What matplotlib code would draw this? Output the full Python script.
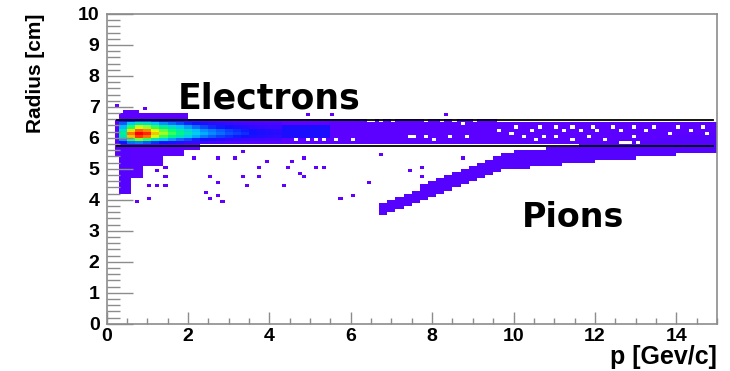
import numpy as np
import matplotlib

matplotlib.use("Agg")
import matplotlib.pyplot as plt
from matplotlib.colors import LinearSegmentedColormap, Normalize
from matplotlib.ticker import MultipleLocator

plt.rcParams["font.family"] = ["Liberation Sans", "DejaVu Sans"]
plt.rcParams["font.weight"] = "bold"

# ---------- binning (p in GeV/c, radius in cm) ----------
DP, DR = 0.1, 0.1
P_MAX, R_MAX = 15.0, 10.0

# ---------- filled regions: p0, p1, r0, r1, entries ----------
box_p0 = [0.2, 0.3, 4.3, 9.6, 0.3, 0.6, 0.9, 1.4, 1.9, 0.3, 0.4, 4.3]
box_p1 = [0.3, 4.3, 9.6, 15.0, 0.6, 0.9, 1.4, 1.9, 2.3, 2.0, 0.8, 5.5]
box_r0 = [5.4, 5.8, 5.8, 5.8, 4.2, 4.7, 5.1, 5.4, 5.6, 6.6, 6.8, 6.0]
box_r1 = [6.6, 6.6, 6.6, 6.5, 5.8, 5.8, 5.8, 5.8, 5.8, 6.8, 6.9, 6.4]
box_n = [2, 2, 2, 2, 3, 2, 2, 2, 1, 2, 2, 14]

# ---------- pion band, step edges ----------
pion_p = [6.7, 6.9, 7.1, 7.3, 7.5, 7.7, 7.9, 8.1, 8.3, 8.5, 8.7, 8.9,
          9.1, 9.3, 9.5, 9.7, 10.0, 10.4, 10.8, 11.2, 11.6, 12.0, 12.5,
          13.0, 13.5, 14.0, 14.5, 15.0]
pion_lo = [3.5, 3.6, 3.7, 3.8, 3.9, 4.0, 4.1, 4.2, 4.3, 4.4, 4.5, 4.6,
           4.7, 4.8, 4.9, 5.0, 5.0, 5.1, 5.1, 5.2, 5.2, 5.3, 5.3, 5.4,
           5.4, 5.5, 5.5]
pion_hi = [3.9, 4.0, 4.1, 4.2, 4.3, 4.5, 4.6, 4.7, 4.8, 4.9, 5.0, 5.1,
           5.2, 5.3, 5.4, 5.5, 5.6, 5.6, 5.7, 5.7, 5.8, 5.8, 5.9, 5.9,
           6.0, 6.1, 6.1]
pion_n = 3

# ---------- electron peak, 0.2 GeV/c columns from p = 0.3 ----------
core_p0 = 0.3
core_dp = 0.2
core_r = [6.5, 6.4, 6.3, 6.2, 6.1, 6.0, 5.9, 5.8]
core_counts = [
    [12, 18, 22, 22, 18, 15, 13, 11, 9, 8, 7, 6, 5, 5, 4, 4, 4, 3, 3, 3],
    [24, 36, 44, 42, 36, 30, 26, 22, 18, 15, 13, 11, 10, 9, 8, 7, 6, 6, 5, 5],
    [34, 55, 68, 64, 56, 48, 42, 36, 31, 26, 22, 19, 17, 15, 13, 12, 10, 9, 8, 8],
    [44, 74, 90, 86, 70, 60, 53, 47, 41, 35, 30, 27, 24, 21, 19, 17, 15, 13, 12, 11],
    [48, 88, 100, 96, 78, 65, 57, 50, 44, 38, 33, 29, 26, 23, 21, 19, 16, 14, 13, 12],
    [44, 78, 94, 88, 68, 57, 49, 43, 37, 32, 27, 24, 21, 19, 17, 15, 13, 12, 11, 10],
    [30, 54, 62, 56, 45, 37, 31, 26, 22, 18, 16, 14, 12, 10, 9, 8, 7, 7, 6, 6],
    [16, 26, 28, 24, 19, 15, 13, 11, 9, 8, 7, 6, 5, 4, 4, 4, 3, 3, 3, 3],
]

# ---------- empty bins inside the electron band ----------
hole_p = [4.6, 4.9, 5.1, 5.3, 5.6, 6.0, 6.4, 6.5, 6.7, 7.0, 7.4, 7.5, 7.8,
          7.8, 8.0, 8.2, 8.4, 8.5, 8.7, 8.8, 9.0,
          9.6, 9.9, 10.0, 10.2, 10.4, 10.5, 10.6, 10.7, 11.0, 11.0, 11.2,
          11.4, 11.4, 11.6, 11.8, 11.9, 12.0, 12.2,
          12.4, 12.6, 12.9, 12.9, 13.2, 13.4, 13.8, 14.0, 14.3, 14.6, 14.7,
          12.6, 12.7, 12.8, 13.0]
hole_r = [5.9, 5.9, 5.9, 5.9, 5.9, 5.9, 6.5, 6.5, 6.5, 6.5, 6.0, 6.0, 6.5,
          6.0, 5.9, 6.5, 6.0, 6.5, 6.4, 6.0, 6.5,
          6.2, 6.1, 6.3, 6.0, 6.2, 5.9, 6.3, 6.0, 6.3, 6.0, 6.2,
          6.3, 5.9, 6.2, 6.0, 6.3, 6.2, 5.9,
          6.3, 6.2, 6.3, 6.0, 6.2, 6.3, 6.1, 6.3, 6.2, 6.3, 6.1,
          5.8, 5.8, 5.8, 5.8]

# ---------- isolated entries ----------
iso_p = [0.74, 1.03, 1.03, 1.27, 1.24, 1.43, 1.43, 1.43, 0.93, 0.3,
         2.13, 2.42, 2.5, 2.54, 2.71, 2.75, 2.74, 2.84, 3.11, 3.33, 3.36,
         3.45, 3.72, 3.77, 3.93, 4.33, 4.42, 4.55, 4.84, 5.12, 5.33, 4.75,
         4.84, 5.8, 6.03, 6.42, 6.72, 7.4, 7.7, 7.75, 8.72, 4.95, 5.5, 8.32]
iso_r = [3.9, 4.1, 4.4, 4.4, 4.96, 5.06, 4.7, 4.45, 6.95, 7.06,
         5.32, 4.3, 4.1, 4.8, 5.32, 4.19, 4.57, 3.93, 5.32, 5.55, 4.7,
         4.4, 5.06, 4.8, 5.22, 4.45, 5.06, 5.22, 5.32, 5.06, 5.06, 4.83,
         4.7, 4.1, 4.19, 4.58, 5.45, 4.96, 5.03, 4.8, 5.32, 6.7, 6.7, 6.7]

# ---------- selection cut ----------
cut_r = [5.75, 6.58]
cut_p = [0.25, 14.9]


def idx(v, d):
    return int(round(v / d))


def build_hist():
    nb_p, nb_r = idx(P_MAX, DP), idx(R_MAX, DR)
    h = np.zeros((nb_r, nb_p))
    for p0, p1, r0, r1, n in zip(box_p0, box_p1, box_r0, box_r1, box_n):
        h[idx(r0, DR):idx(r1, DR), idx(p0, DP):idx(p1, DP)] = n
    for k in range(len(pion_lo)):
        h[idx(pion_lo[k], DR):idx(pion_hi[k], DR),
          idx(pion_p[k], DP):idx(pion_p[k + 1], DP)] = pion_n
    for i, r in enumerate(core_r):
        for j, n in enumerate(core_counts[i]):
            c0 = idx(core_p0 + j * core_dp, DP)
            c1 = idx(core_p0 + (j + 1) * core_dp, DP)
            h[idx(r, DR), c0:c1] = n
    for p, r in zip(hole_p, hole_r):
        h[idx(r, DR), idx(p, DP)] = 0
    for p, r in zip(iso_p, iso_r):
        h[int(r / DR), int(p / DP)] = 1
    return h


# ROOT-like rainbow palette (violet -> red)
palette = LinearSegmentedColormap.from_list(
    "root_rainbow",
    [(0.0, "#6000ff"), (0.15, "#1010ff"), (0.35, "#00c8ff"),
     (0.52, "#00ff70"), (0.70, "#e8ff00"), (0.85, "#ff9000"),
     (1.0, "#ff0000")])

H = build_hist()
p_edges = np.linspace(0, P_MAX, H.shape[1] + 1)
r_edges = np.linspace(0, R_MAX, H.shape[0] + 1)

fig = plt.figure(figsize=(7.3, 3.71), dpi=100)
ax = fig.add_axes([0.1459, 0.1275, 0.8363, 0.8348])

ax.pcolormesh(p_edges, r_edges, np.ma.masked_equal(H, 0), cmap=palette,
              norm=Normalize(vmin=1, vmax=100), shading="flat")

for r in cut_r:
    ax.plot(cut_p, [r, r], color="black", lw=1.3)

ax.set_xlim(0, P_MAX)
ax.set_ylim(0, R_MAX)

gray = "#8c8c8c"
for s in ax.spines.values():
    s.set_color(gray)
    s.set_linewidth(1.2)

ax.xaxis.set_major_locator(MultipleLocator(2))
ax.xaxis.set_minor_locator(MultipleLocator(0.5))
ax.yaxis.set_major_locator(MultipleLocator(1))
ax.yaxis.set_minor_locator(MultipleLocator(0.2))
ax.tick_params(axis="both", which="both", direction="in", color=gray,
               width=1.0, labelsize=14)
ax.tick_params(axis="x", which="major", length=9, pad=3)
ax.tick_params(axis="x", which="minor", length=4.5)
ax.tick_params(axis="y", which="major", length=19, pad=5)
ax.tick_params(axis="y", which="minor", length=9)

ax.text(-0.117, 1.002, "Radius [cm]", transform=ax.transAxes, rotation=90,
        ha="center", va="top", fontsize=15)
fig.text(717 / 730, 2 / 371, "p [Gev/c]", ha="right", va="bottom",
         fontsize=18)

ax.text(1.76, 6.96, "Electrons", fontsize=25, family=["DejaVu Sans"],
        va="baseline")
ax.text(10.2, 3.11, "Pions", fontsize=24, family=["DejaVu Sans"],
        va="baseline")

fig.savefig("out.png", dpi=100, facecolor="white")
